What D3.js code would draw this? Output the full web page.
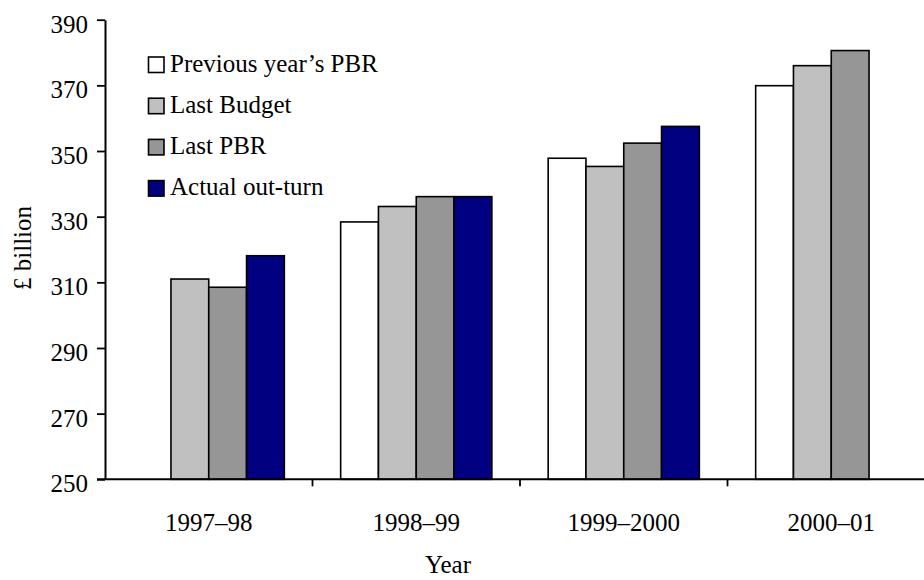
<!DOCTYPE html>
<html>
<head>
<meta charset="utf-8">
<script src="https://cdn.jsdelivr.net/npm/d3@7/dist/d3.min.js"></script>
<style>
  html, body { margin: 0; padding: 0; background: #fff; }
  svg { display: block; }
</style>
</head>
<body>
<svg id="chart" width="924" height="580"></svg>
<script>
// Public spending forecasts versus out-turn, £ billion
const categories = ["1997–98", "1998–99", "1999–2000", "2000–01"];
const seriesNames = ["Previous year’s PBR", "Last Budget", "Last PBR", "Actual out-turn"];
const previousYearPBR = [null, 328.4, 347.8, 369.9];
const lastBudget = [311.0, 333.1, 345.3, 376.0];
const lastPBR = [308.5, 336.1, 352.4, 380.6];
const actualOutturn = [318.1, 336.1, 357.5, null];
const seriesColors = ["#ffffff", "#c0c0c0", "#969696", "#000080"];
const yTicks = [250, 270, 290, 310, 330, 350, 370, 390];

const seriesValues = [previousYearPBR, lastBudget, lastPBR, actualOutturn];

const serif = "'Liberation Serif', 'Times New Roman', Times, serif";
const svg = d3.select("#chart");
const plotLeft = 105, plotRight = 935, plotTop = 19.7, plotBottom = 479.3;
const fontSize = 25;

const x0 = d3.scaleBand().domain(categories).range([plotLeft, plotRight]).paddingInner(0).paddingOuter(0);
const x1 = d3.scaleBand().domain(seriesNames).range([0, x0.bandwidth()]).paddingInner(0).paddingOuter(0.745);
const y = d3.scaleLinear().domain([250, 390]).range([plotBottom, plotTop]);

// Bars
const rows = [];
categories.forEach((c, i) => {
  seriesNames.forEach((s, j) => {
    const v = seriesValues[j][i];
    if (v != null) rows.push({ c, s, v, j });
  });
});

svg.append("g").selectAll("rect").data(rows).join("rect")
  .attr("x", d => x0(d.c) + x1(d.s))
  .attr("y", d => y(d.v))
  .attr("width", x1.bandwidth())
  .attr("height", d => y(250) - y(d.v))
  .attr("fill", d => seriesColors[d.j])
  .attr("stroke", "#000")
  .attr("stroke-width", 1.6);

// Y axis
const yAxis = svg.append("g")
  .attr("transform", `translate(${plotLeft},0)`)
  .call(d3.axisLeft(y).tickValues(yTicks).tickFormat(d3.format("d")).tickSize(8).tickSizeOuter(0).tickPadding(9));
yAxis.attr("font-family", null).attr("font-size", null);
yAxis.select(".domain").attr("stroke", "#000").attr("stroke-width", 2);
yAxis.selectAll(".tick line").attr("stroke", "#000").attr("stroke-width", 1.8);
yAxis.selectAll(".tick text")
  .style("font-family", serif)
  .style("font-size", fontSize + "px")
  .attr("fill", "#000")
  .attr("dy", "0.5em");

// X axis line and category boundary ticks
svg.append("line")
  .attr("x1", plotLeft - 8).attr("x2", plotRight)
  .attr("y1", plotBottom).attr("y2", plotBottom)
  .attr("stroke", "#000").attr("stroke-width", 2);

svg.append("g").selectAll("line").data(categories.slice(1)).join("line")
  .attr("x1", d => x0(d)).attr("x2", d => x0(d))
  .attr("y1", plotBottom).attr("y2", plotBottom + 7)
  .attr("stroke", "#000").attr("stroke-width", 1.8);

svg.append("g").selectAll("text").data(categories).join("text")
  .attr("x", d => x0(d) + x0.bandwidth() / 2)
  .attr("y", 530.7)
  .attr("text-anchor", "middle")
  .style("font-family", serif)
  .style("font-size", fontSize + "px")
  .text(d => d);

// Axis titles
svg.append("text")
  .attr("x", 448).attr("y", 573)
  .attr("text-anchor", "middle")
  .style("font-family", serif)
  .style("font-size", fontSize + "px")
  .text("Year");

svg.append("text")
  .attr("transform", "translate(31,248) rotate(-90)")
  .attr("text-anchor", "middle")
  .style("font-family", serif)
  .style("font-size", fontSize + "px")
  .text("£ billion");

// Legend
const legend = svg.append("g");
const legendItems = legend.selectAll("g").data(seriesNames).join("g")
  .attr("transform", (d, i) => `translate(0,${i * 41.2})`);
legendItems.append("rect")
  .attr("x", 148.5).attr("y", 57)
  .attr("width", 15.5).attr("height", 15.5)
  .attr("fill", (d, i) => seriesColors[i])
  .attr("stroke", "#000").attr("stroke-width", 1.6);
legendItems.append("text")
  .attr("x", 170).attr("y", 71.7)
  .style("font-family", serif)
  .style("font-size", fontSize + "px")
  .text(d => d);
</script>
</body>
</html>
